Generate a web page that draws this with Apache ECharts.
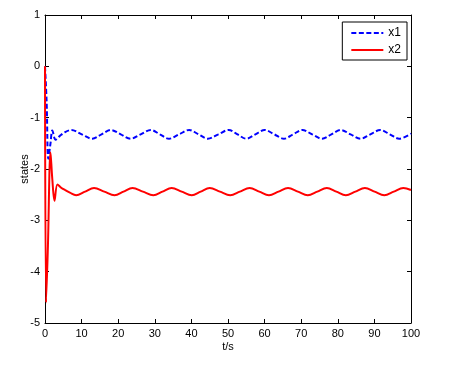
<!DOCTYPE html>
<html>
<head>
<meta charset="utf-8">
<script src="https://cdn.jsdelivr.net/npm/echarts@6/dist/echarts.min.js"></script>
<style>html,body{margin:0;padding:0;background:#fff;}#c{width:449px;height:369px;}</style>
</head>
<body>
<div id="c"></div>
<script>
var x1T = [0, 0.45, 0.9, 1.5, 2.0, 2.9, 4.0, 5.5, 7.2, 10.05, 12.9, 15.45, 18, 20.7, 23.4, 26.15, 28.9, 31.4, 33.9, 36.65, 39.4, 41.95, 44.5, 47.35, 50.2, 52.6, 55, 57.5, 60, 62.65, 65.3, 67.8, 70.3, 73, 75.7, 78.25, 80.8, 83.5, 86.2, 88.9, 91.6, 94.2, 96.8, 100];
var x1V = [0, -0.7, -1.8, -1.5, -1.25, -1.43, -1.36, -1.28, -1.24, -1.325, -1.41, -1.325, -1.24, -1.325, -1.41, -1.325, -1.24, -1.325, -1.41, -1.325, -1.24, -1.325, -1.41, -1.325, -1.24, -1.325, -1.41, -1.325, -1.24, -1.325, -1.41, -1.325, -1.24, -1.325, -1.41, -1.325, -1.24, -1.325, -1.41, -1.325, -1.24, -1.325, -1.41, -1.31];
var x2T = [0, 0.3, 0.8, 1.5, 2.0, 2.6, 3.4, 4.5, 5.5, 6.8, 8.5, 10.95, 13.4, 16.2, 19, 21.45, 23.9, 26.75, 29.6, 32.1, 34.6, 37.35, 40.1, 42.55, 45, 47.8, 50.6, 53.25, 55.9, 58.55, 61.2, 63.8, 66.4, 69.1, 71.8, 74.4, 77, 79.6, 82.2, 84.8, 87.4, 90.05, 92.7, 95.3, 97.9, 100];
var x2V = [0, -4.6, -3.5, -1.68, -2.2, -2.62, -2.3, -2.37, -2.41, -2.46, -2.51, -2.44, -2.37, -2.44, -2.51, -2.44, -2.37, -2.44, -2.51, -2.44, -2.37, -2.44, -2.51, -2.44, -2.37, -2.44, -2.51, -2.44, -2.37, -2.44, -2.51, -2.44, -2.37, -2.44, -2.51, -2.44, -2.37, -2.44, -2.51, -2.44, -2.37, -2.44, -2.51, -2.44, -2.37, -2.41];
var xTicks = {min: 0, max: 100, interval: 10};
var yTicks = {min: -5, max: 1, interval: 1};

function pairs(t, v) { return t.map(function (x, i) { return [x, v[i]]; }); }

var font = 'Liberation Sans, Arial, sans-serif';
var chart = echarts.init(document.getElementById('c'));
var axisCommon = {
  axisLine: {show: true, onZero: false, lineStyle: {color: '#000', width: 1}},
  axisTick: {show: true, inside: true, length: 4, lineStyle: {color: '#000'}},
  splitLine: {show: false}
};
chart.setOption({
  animation: false,
  backgroundColor: '#fff',
  grid: {left: 45, top: 15, width: 366, height: 308, show: false},
  legend: {
    orient: 'vertical', right: 42, top: 22,
    padding: [5, 6, 4, 8], itemGap: 5, itemWidth: 32, itemHeight: 12,
    backgroundColor: '#fff', borderColor: '#000', borderWidth: 1, borderRadius: 0,
    itemStyle: {opacity: 0, borderWidth: 0},
    textStyle: {fontFamily: font, fontSize: 12, color: '#000'},
    data: ['x1', 'x2']
  },
  xAxis: [
    Object.assign({type: 'value', position: 'bottom', min: xTicks.min, max: xTicks.max, interval: xTicks.interval,
      name: 't/s', nameLocation: 'middle', nameGap: 18, nameMoveOverlap: false,
      nameTextStyle: {fontFamily: font, fontSize: 11, color: '#000'},
      axisLabel: {fontFamily: font, fontSize: 11, color: '#000', margin: 5}}, axisCommon),
    Object.assign({type: 'value', position: 'top', min: xTicks.min, max: xTicks.max, interval: xTicks.interval,
      axisLabel: {show: false}}, axisCommon)
  ],
  yAxis: [
    Object.assign({type: 'value', position: 'left', min: yTicks.min, max: yTicks.max, interval: yTicks.interval,
      name: 'states', nameLocation: 'middle', nameGap: 15, nameRotate: 90, nameMoveOverlap: false,
      nameTextStyle: {fontFamily: font, fontSize: 11, color: '#000'},
      axisLabel: {fontFamily: font, fontSize: 11, color: '#000', margin: 5}}, axisCommon),
    Object.assign({type: 'value', position: 'right', min: yTicks.min, max: yTicks.max, interval: yTicks.interval,
      axisLabel: {show: false}}, axisCommon)
  ],
  series: [
    {name: 'x1', type: 'line', xAxisIndex: 0, yAxisIndex: 0, data: pairs(x1T, x1V), showSymbol: false, symbol: 'none',
      smooth: 0.35, color: '#0000ff', lineStyle: {color: '#0000ff', width: 2, type: [5, 2.5]}},
    {name: 'x2', type: 'line', xAxisIndex: 0, yAxisIndex: 0, data: pairs(x2T, x2V), showSymbol: false, symbol: 'none',
      smooth: 0.35, color: '#ff0000', lineStyle: {color: '#ff0000', width: 2}}
  ]
});
</script>
</body>
</html>
